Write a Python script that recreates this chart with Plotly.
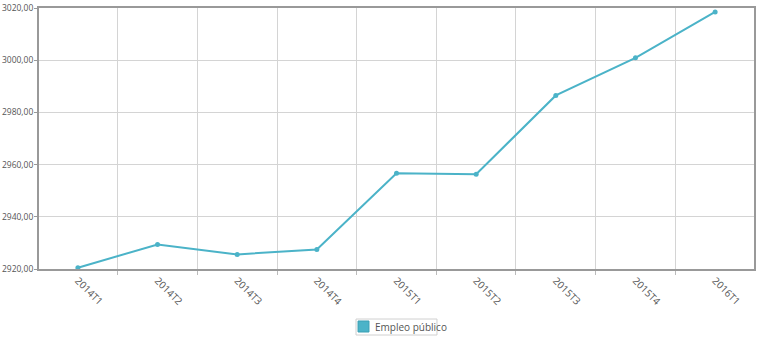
import plotly.graph_objects as go

categories = ["2014T1", "2014T2", "2014T3", "2014T4", "2015T1", "2015T2", "2015T3", "2015T4", "2016T1"]
empleo_publico = [2920.5, 2929.4, 2925.6, 2927.5, 2956.7, 2956.3, 2986.5, 3000.9, 3018.5]
series_name = "Empleo público"
y_ticks = [2920, 2940, 2960, 2980, 3000, 3020]

color = "#4bb3c8"
fig = go.Figure()
fig.add_trace(go.Scatter(
    x=categories, y=empleo_publico, mode="lines+markers",
    line=dict(color=color, width=2), marker=dict(size=5, color=color),
    name=series_name, showlegend=False,
))

# compact legend drawn manually (box, swatch, label)
fig.add_shape(type="rect", xref="paper", yref="paper",
              x0=0.4434, x1=0.5566, y0=-0.2529, y1=-0.1916,
              line=dict(color="#d0d0d0", width=1), fillcolor="white")
fig.add_shape(type="rect", xref="paper", yref="paper",
              x0=0.4462, x1=0.4615, y0=-0.2414, y1=-0.1992,
              line=dict(color="#3a9fb3", width=1), fillcolor=color)
fig.add_annotation(text=series_name, xref="paper", yref="paper",
                   x=0.4671, y=-0.2222, xanchor="left", yanchor="middle",
                   showarrow=False, font=dict(size=10, color="#555"))

fig.update_layout(
    width=762, height=355,
    margin=dict(l=39, r=8, t=8, b=86),
    paper_bgcolor="white", plot_bgcolor="white",
    separators=",.",
    font=dict(family="Open Sans, sans-serif", size=10, color="#555"),
    showlegend=False,
    xaxis=dict(
        type="category", tickangle=45, tickson="boundaries", automargin=False,
        showgrid=True, gridcolor="#d4d4d4", gridwidth=1,
        showline=True, linecolor="#999", linewidth=2, mirror=True,
        ticks="outside", ticklen=4, tickcolor="#bbb",
        tickfont=dict(size=10, color="#555"),
    ),
    yaxis=dict(
        range=[2920, 3020], tickvals=y_ticks, tickformat=".2f", automargin=False,
        showgrid=True, gridcolor="#d4d4d4", gridwidth=1,
        showline=True, linecolor="#999", linewidth=2, mirror=True,
        ticks="outside", ticklen=3, tickcolor="#999", ticklabelstandoff=-1,
        tickfont=dict(size=8.5, color="#555"),
        zeroline=False,
    ),
)
fig.write_html("out.html")
